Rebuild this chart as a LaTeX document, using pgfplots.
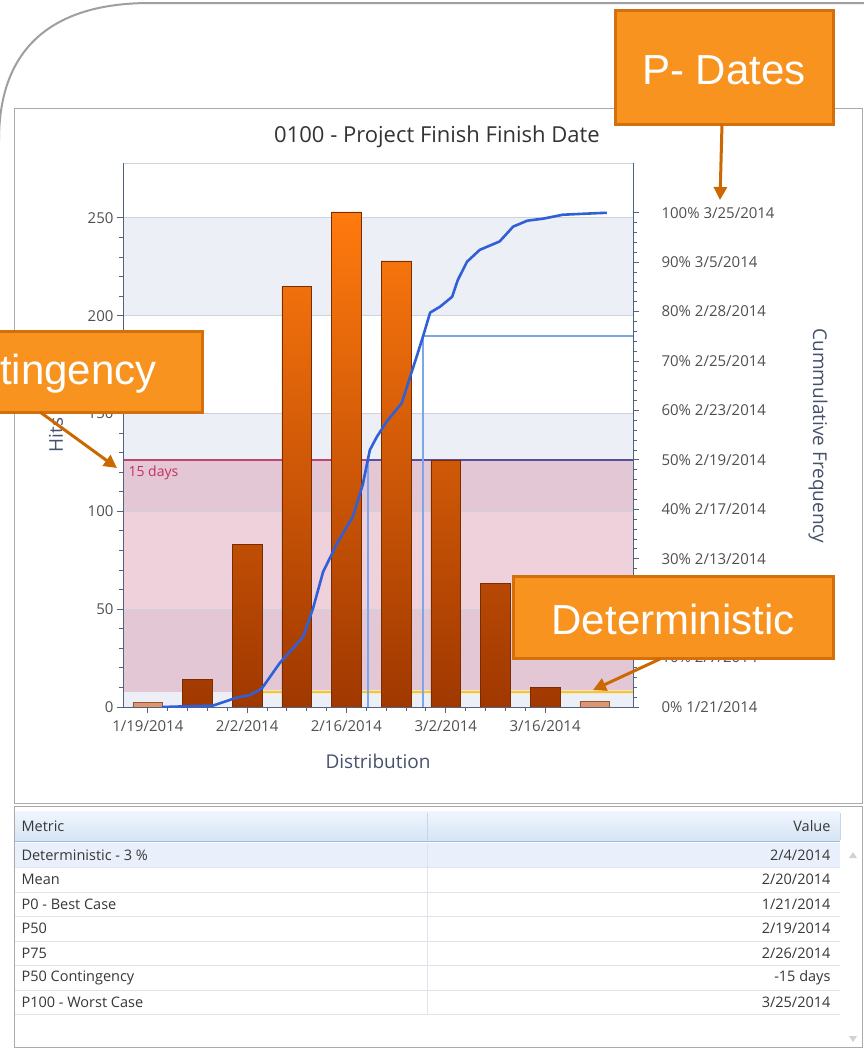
\documentclass[border=0pt]{standalone}
\usepackage{pgfplots}
\pgfplotsset{compat=1.18}
\usepackage{pgfplotstable}
\usepackage{fontspec}
\setmainfont{Open Sans}
\newfontfamily\calloutfont{Liberation Sans}
\usetikzlibrary{arrows.meta}

\definecolor{bandgray}{RGB}{236,239,245}
\definecolor{pinkfill}{RGB}{212,126,155}
\definecolor{axisslate}{RGB}{80,98,128}
\definecolor{gridc}{RGB}{205,210,220}
\definecolor{bartop}{RGB}{255,122,14}
\definecolor{barbot}{RGB}{160,56,0}
\definecolor{baredge}{RGB}{120,45,0}
\definecolor{palebar}{RGB}{222,150,112}
\definecolor{curveblue}{RGB}{48,96,216}
\definecolor{pblue}{RGB}{125,165,235}
\definecolor{p50purple}{RGB}{90,78,160}
\definecolor{crimsonline}{RGB}{190,70,110}
\definecolor{crimsontext}{RGB}{196,48,96}
\definecolor{detyellow}{RGB}{240,196,70}
\definecolor{detglow}{RGB}{248,232,180}
\definecolor{calloutfill}{RGB}{247,147,30}
\definecolor{calloutedge}{RGB}{212,112,12}
\definecolor{arrowc}{RGB}{204,104,0}
\definecolor{ticktext}{RGB}{80,80,80}
\definecolor{labeltext}{RGB}{70,82,108}
\definecolor{titletext}{RGB}{51,51,51}
\definecolor{panelborder}{RGB}{170,170,170}
\definecolor{headtop}{RGB}{240,246,253}
\definecolor{headbot}{RGB}{214,228,245}
\definecolor{headline}{RGB}{160,185,215}
\definecolor{rowsep}{RGB}{222,228,236}
\definecolor{rowhl}{RGB}{233,240,251}
\definecolor{tabletext}{RGB}{55,55,55}

\newcommand{\tickfont}{\fontsize{15}{18}\selectfont}
\newcommand{\tabfont}{\fontsize{14.5}{17}\selectfont}

\pgfplotstableread{
day hits
7 14
14 83
21 215
28 253
35 228
42 126
49 63
56 10
}\bars

\pgfplotstableread{
day hits
0 2.5
63 3
}\palebars

\pgfplotstableread{
day pct
2 0
9.2 0.3
11.1 1.2
12.5 1.9
14.4 2.4
16.1 3.8
18.6 8.9
21.9 14.2
23.3 20
24.7 27.3
26.7 33.2
28.9 38.5
30.3 45
31.3 52
32.3 54.7
33.7 57.8
35.8 61.5
37.0 66.9
37.9 70.9
38.8 75
39.8 79.8
41.2 81
42.9 83
43.7 86.4
45.0 90.1
46.8 92.5
49.6 94.2
51.5 97.2
53.5 98.4
55.7 98.8
58.5 99.6
61.4 99.8
64.7 100
}\cumul

\begin{document}
\begin{tikzpicture}[x=1pt,y=1pt]
\useasboundingbox (0,0) rectangle (864,-1053);
\clip (0,0) rectangle (864,-1053);
\fill[white] (0,0) rectangle (864,-1053);

% outer rounded frame
\draw[gray!75, line width=2pt] (-1,-140) .. controls (-1,-50) and (50,-3) .. (150,-3) -- (870,-3);

% chart panel
\draw[panelborder, line width=1pt, fill=white] (14,-108) rectangle (862,-803);

% table panel
\draw[panelborder, line width=1pt, fill=white] (14,-806) rectangle (862,-1047);
\shade[top color=headtop, bottom color=headbot] (15,-811) rectangle (840,-841);
\draw[headline] (15,-841) -- (840,-841);
\draw[headline!60] (427,-813) -- (427,-840);
\draw[headline!60] (840,-813) -- (840,-840);
\fill[rowhl] (15,-843) rectangle (840,-867.5);
\foreach \yy in {867.5,892,916.5,941,965.5,990,1014.5}{
  \draw[rowsep] (15,-\yy) -- (840,-\yy);
}
\draw[rowsep] (427,-843) -- (427,-1014.5);
\fill[gray!35] (849,-858) -- (857,-858) -- (853,-852) -- cycle;
\fill[gray!35] (849,-1036) -- (857,-1036) -- (853,-1042) -- cycle;
\node[anchor=west, font=\tabfont, text=tabletext] at (18,-826) {Metric};
\node[anchor=east, font=\tabfont, text=tabletext] at (834,-826) {Value};
\node[anchor=west, font=\tabfont, text=tabletext] at (18,-855) {Deterministic - 3 \%};
\node[anchor=east, font=\tabfont, text=tabletext] at (834,-855) {2/4/2014};
\node[anchor=west, font=\tabfont, text=tabletext] at (18,-879.5) {Mean};
\node[anchor=east, font=\tabfont, text=tabletext] at (834,-879.5) {2/20/2014};
\node[anchor=west, font=\tabfont, text=tabletext] at (18,-904) {P0 - Best Case};
\node[anchor=east, font=\tabfont, text=tabletext] at (834,-904) {1/21/2014};
\node[anchor=west, font=\tabfont, text=tabletext] at (18,-928.5) {P50};
\node[anchor=east, font=\tabfont, text=tabletext] at (834,-928.5) {2/19/2014};
\node[anchor=west, font=\tabfont, text=tabletext] at (18,-953) {P75};
\node[anchor=east, font=\tabfont, text=tabletext] at (834,-953) {2/26/2014};
\node[anchor=west, font=\tabfont, text=tabletext] at (18,-977.5) {P50 Contingency};
\node[anchor=east, font=\tabfont, text=tabletext] at (834,-977.5) {-15 days};
\node[anchor=west, font=\tabfont, text=tabletext] at (18,-1002) {P100 - Worst Case};
\node[anchor=east, font=\tabfont, text=tabletext] at (834,-1002) {3/25/2014};

% title and labels
\node[font=\fontsize{22}{26}\selectfont, text=titletext] at (437,-137) {0100 - Project Finish Finish Date};
\node[font=\fontsize{19}{22}\selectfont, text=labeltext] at (378,-761) {Distribution};
\node[rotate=90, font=\fontsize{19}{22}\selectfont, text=labeltext] at (56,-435) {Hits};
\node[rotate=-90, font=\fontsize{19}{22}\selectfont, text=labeltext] at (818,-436) {Cummulative Frequency};

% histogram axis
\begin{axis}[
  at={(123pt,-707pt)}, anchor=south west,
  scale only axis, width=510pt, height=544pt,
  xmin=-3.5, xmax=68.4, ymin=0, ymax=278,
  axis x line*=bottom, axis y line*=left,
  axis line style={axisslate, line width=1pt, -},
  every tick/.style={axisslate, line width=0.8pt},
  tick align=outside,
  major tick length=6pt, minor tick length=3.5pt,
  xtick={0,14,28,42,56},
  xticklabels={1/19/2014,2/2/2014,2/16/2014,3/2/2014,3/16/2014},
  minor x tick num=4,
  ytick={0,50,100,150,200,250},
  minor y tick num=4,
  tick label style={font=\tickfont, text=ticktext},
  xticklabel style={yshift=-4pt},
  /pgf/number format/assume math mode=true,
  axis on top,
]
% background bands
\fill[bandgray] (axis cs:-3.5,0) rectangle (axis cs:68.4,50);
\fill[bandgray] (axis cs:-3.5,100) rectangle (axis cs:68.4,150);
\fill[bandgray] (axis cs:-3.5,200) rectangle (axis cs:68.4,250);
% contingency band
\fill[pinkfill, opacity=0.35] (axis cs:-3.5,7.58) rectangle (axis cs:68.4,126.3);
% grid lines
\foreach \g in {50,100,150,200,250}{
  \edef\tmp{\noexpand\draw[gridc, line width=0.8pt] (axis cs:-3.5,\g) -- (axis cs:68.4,\g);}\tmp
}
\draw[gridc, line width=0.8pt] (axis cs:-3.5,278) -- (axis cs:68.4,278);
% deterministic line
\draw[detglow, line width=4pt] (axis cs:16,7.58) -- (axis cs:68.4,7.58);
\draw[detyellow, line width=1.6pt] (axis cs:16,7.58) -- (axis cs:68.4,7.58);
% P50 lines
\draw[crimsonline, line width=1.3pt] (axis cs:-3.5,126.3) -- (axis cs:68.4,126.3);
\draw[p50purple, line width=1.5pt] (axis cs:31,126.3) -- (axis cs:68.4,126.3);
\draw[pblue, line width=1.8pt] (axis cs:31,0) -- (axis cs:31,126.3);
% P75 lines
\draw[pblue, line width=1.8pt] (axis cs:38.8,0) -- (axis cs:38.8,189.4) -- (axis cs:68.4,189.4);
% bars
\addplot[ybar, bar width=4.2, bar shift=0pt, draw=baredge, line width=0.6pt,
  top color=bartop, bottom color=barbot] table[x=day,y=hits]{\bars};
\addplot[ybar, bar width=4.2, bar shift=0pt, draw=baredge!80, line width=0.6pt,
  fill=palebar] table[x=day,y=hits]{\palebars};
\end{axis}

% cumulative axis
\begin{axis}[
  at={(123pt,-707pt)}, anchor=south west,
  scale only axis, width=510pt, height=544pt,
  xmin=-3.5, xmax=68.4, ymin=0, ymax=110.07,
  axis x line=none, axis y line*=right,
  axis line style={axisslate, line width=1pt, -},
  every tick/.style={axisslate, line width=0.8pt},
  tick align=outside,
  major tick length=6pt, minor tick length=3.5pt,
  ytick={0,10,20,30,40,50,60,70,80,90,100},
  minor y tick num=4,
  yticklabels={0\% 1/21/2014,10\% 2/7/2014,20\% 2/11/2014,30\% 2/13/2014,40\% 2/17/2014,50\% 2/19/2014,60\% 2/23/2014,70\% 2/25/2014,80\% 2/28/2014,90\% 3/5/2014,100\% 3/25/2014},
  yticklabel style={anchor=west, font=\tickfont, text=ticktext, xshift=19pt},
]
\addplot[curveblue, line width=2.6pt, line join=round] table[x=day,y=pct]{\cumul};
\end{axis}

\node[anchor=west, font=\fontsize{14}{16}\selectfont, text=crimsontext] at (125,-473) {15 days};

% callouts
\draw[calloutedge, line width=3pt, fill=calloutfill] (615,-10) rectangle (833,-124);
\node[font=\calloutfont\fontsize{42}{48}\selectfont, text=white] at (724,-70) {P- Dates};
\draw[arrowc, line width=3pt, -{Triangle[length=13pt,width=13pt]}] (722,-124) -- (720,-200);

\draw[calloutedge, line width=3pt, fill=calloutfill] (-122,-331) rectangle (202,-412);
\node[font=\calloutfont\fontsize{42}{48}\selectfont, text=white] at (40,-374) {Contingency};
\draw[arrowc, line width=3pt, -{Triangle[length=13pt,width=13pt]}] (40,-412) -- (117,-468);

\draw[calloutedge, line width=3pt, fill=calloutfill] (513,-576) rectangle (833,-658);
\node[font=\calloutfont\fontsize{42}{48}\selectfont, text=white] at (673,-619) {Deterministic};
\draw[arrowc, line width=3pt, -{Triangle[length=13pt,width=13pt]}] (660,-659) -- (593,-690);
\end{tikzpicture}
\end{document}
